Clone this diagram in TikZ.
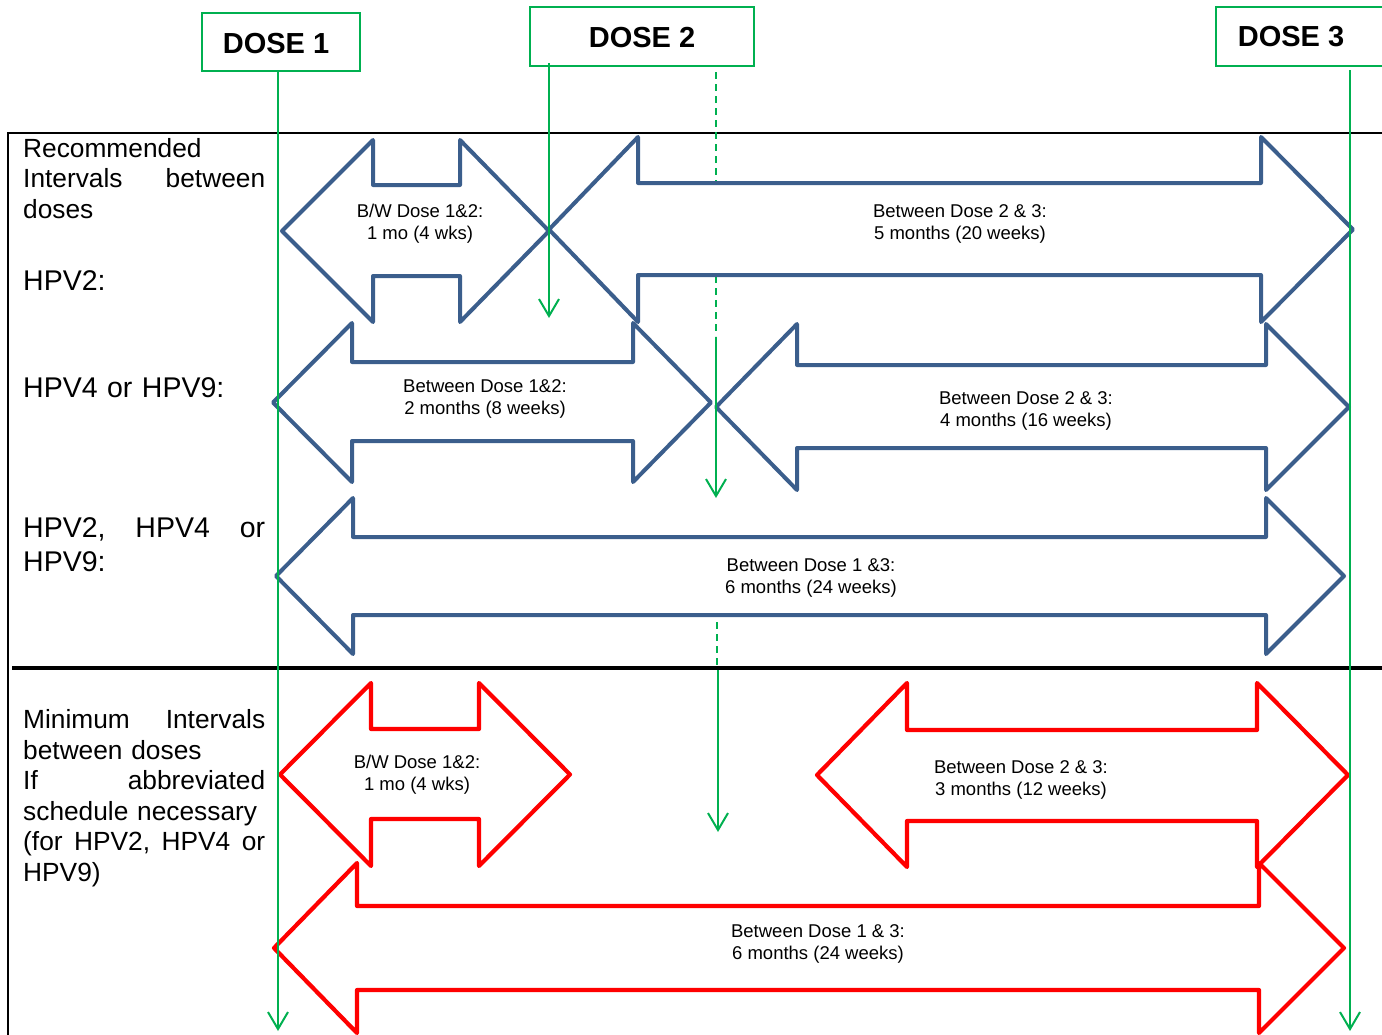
\documentclass[tikz,border=0pt]{standalone}
\usepackage{fontspec}
\setmainfont{Liberation Sans}
\usetikzlibrary{arrows.meta}
\definecolor{dgreen}{HTML}{00B050}
\definecolor{dblue}{HTML}{3B5E8C}
\definecolor{dred}{HTML}{FF0000}
% #1 left tip x, #2 left base x, #3 right base x, #4 right tip x,
% #5 head top y, #6 shaft top y, #7 shaft bottom y, #8 head bottom y, #9 style
\newcommand\dblarrow[9]{%
  \draw[#9] (#1,{(#5+#8)/2}) -- (#2,#5) -- (#2,#6) -- (#3,#6) -- (#3,#5)
    -- (#4,{(#5+#8)/2}) -- (#3,#8) -- (#3,#7) -- (#2,#7) -- (#2,#8) -- cycle;}
\begin{document}
\begin{tikzpicture}[x=1pt,y=-1pt,
  dosebox/.style={draw=dgreen, line width=2pt, inner sep=0pt},
  dosetext/.style={font=\bfseries\fontsize{29}{34}\selectfont, inner sep=0pt, anchor=base},
  gline/.style={draw=dgreen, line width=2pt, -{Straight Barb[length=17pt,width=20pt]}},
  gdash/.style={draw=dgreen, line width=2pt, dash pattern=on 7pt off 5pt},
  barrow/.style={draw=dblue, fill=white, line width=4pt, line join=round},
  rarrow/.style={draw=dred, fill=white, line width=4.2pt, line join=round},
  intext/.style={font=\fontsize{18.5}{22}\selectfont, align=center, inner sep=0pt},
  lefttext/.style={font=\fontsize{26.3}{30.6}\selectfont, text width=242pt, align=left, inner sep=0pt, anchor=base west},
  hpvtext/.style={font=\fontsize{28.5}{34.5}\selectfont, text width=242pt, align=left, inner sep=0pt, anchor=base west}
]
\useasboundingbox (0,0) rectangle (1382,1034);
\clip (0,0) rectangle (1382,1034);

% frame
\draw[line width=2pt] (8,1040) -- (8,133) -- (1390,133);
\draw[line width=4.5pt] (12,668) -- (1390,668);

% dose boxes
\node[dosebox, minimum width=158pt, minimum height=58pt] (d1) at (281,42) {};
\node[dosetext] (d1t) at (276,53) {DOSE 1};
\node[dosebox, minimum width=224pt, minimum height=59pt] (d2) at (642,36.5) {};
\node[dosetext] (d2t) at (642,47) {DOSE 2};
\node[dosebox, minimum width=180pt, minimum height=59pt] (d3) at (1306,36.5) {};
\node[dosetext] (d3t) at (1291,46.5) {DOSE 3};

% dashed dose-2 guides (partly hidden by arrows)
\coordinate (g2a) at (716,72);
\coordinate (g2b) at (716,336);
\coordinate (g2c) at (717,622);
\coordinate (g2d) at (717,667);
\draw[gdash] (g2a) -- (g2b);
\draw[gdash] (g2c) -- (g2d);

% blue arrows
\dblarrow{282}{373}{460}{549}{140}{185}{276}{322}{barrow}
\dblarrow{549}{638}{1261}{1353}{137}{183}{275}{322}{barrow}
\dblarrow{273}{352}{633}{711}{323}{362}{441}{482}{barrow}
\dblarrow{716}{797}{1266}{1349}{324}{365}{448}{490}{barrow}
\dblarrow{276}{353}{1266}{1344}{498}{537}{615}{654}{barrow}
% red arrows
\dblarrow{280}{371}{479}{570}{683}{729}{819}{866}{rarrow}
\dblarrow{817}{907}{1257}{1348}{683}{730}{821}{867}{rarrow}
\dblarrow{274}{357}{1259}{1344}{863}{906}{990}{1033}{rarrow}

% solid green lines
\coordinate (g1a) at (278,71);
\coordinate (g1b) at (278,1031);
\coordinate (g2s) at (549,63);
\coordinate (g2e) at (549,318);
\coordinate (g4s) at (716,337);
\coordinate (g4e) at (716,498);
\coordinate (g5s) at (718,670);
\coordinate (g5e) at (718,832);
\coordinate (g3a) at (1350,70);
\coordinate (g3b) at (1350,1031);
\draw[gline] (g1a) -- (g1b);
\draw[gline] (g2s) -- (g2e);
\draw[gline] (g4s) -- (g4e);
\draw[gline] (g5s) -- (g5e);
\draw[gline] (g3a) -- (g3b);

% arrow texts
\node[intext] (t1) at (420,224) {B/W Dose 1\&2:\\1 mo (4 wks)};
\node[intext] (t2) at (960,224) {Between Dose 2 \& 3:\\5 months (20 weeks)};
\node[intext] (t3) at (485,399) {Between Dose 1\&2:\\2 months (8 weeks)};
\node[intext] (t4) at (1026,410.5) {Between Dose 2 \& 3:\\4 months (16 weeks)};
\node[intext] (t5) at (811,577.5) {Between Dose 1 \&3:\\6 months (24 weeks)};
\node[intext] (t6) at (417,775) {B/W Dose 1\&2:\\1 mo (4 wks)};
\node[intext] (t7) at (1021,780) {Between Dose 2 \& 3:\\3 months (12 weeks)};
\node[intext] (t8) at (818,943.5) {Between Dose 1 \& 3:\\6 months (24 weeks)};

% left labels
\node[lefttext] (l1) at (23,157.3) {Recommended\\Intervals\hfill between\\doses};
\node[hpvtext] (l2) at (23,290.5) {HPV2:};
\node[hpvtext] (l3) at (23,397) {HPV4 or HPV9:};
\node[hpvtext] (l4) at (23,537) {HPV2,\hfill HPV4\hfill or\\HPV9:};
\node[lefttext] (l5) at (23,728.5) {Minimum\hfill Intervals\\between doses\\If\hfill abbreviated\\schedule necessary\\(for\hfill HPV2,\hfill HPV4\hfill or\\HPV9)};
\end{tikzpicture}
\end{document}
